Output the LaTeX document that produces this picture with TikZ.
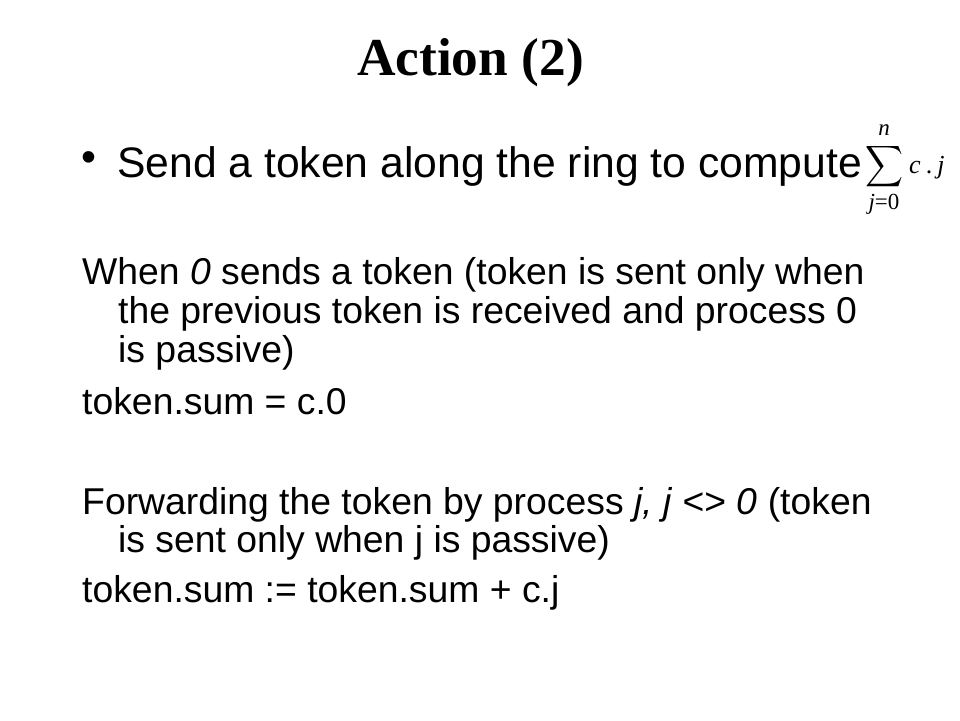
\documentclass[tikz,border=0pt]{standalone}
\usepackage{fontspec}
\setmainfont{Liberation Sans}
\newfontfamily\titlefont{Liberation Serif}
\usepackage{graphicx}
\tikzset{
  body/.style={anchor=base west, inner sep=0pt, font=\fontsize{37.33}{44}\selectfont},
  ttl/.style={anchor=base, inner sep=0pt, font=\titlefont\bfseries\fontsize{53.33}{60}\selectfont},
  bul/.style={anchor=base west, inner sep=0pt, font=\fontsize{42.67}{50}\selectfont},
  bdot/.style={anchor=center, inner sep=0pt, font=\fontsize{42.67}{50}\selectfont},
  mth/.style={inner sep=0pt, font=\titlefont\fontsize{23}{28}\selectfont},
  mthbig/.style={inner sep=0pt, font=\titlefont\fontsize{26}{30}\selectfont}
}
\begin{document}
\begin{tikzpicture}[x=1pt,y=-1pt]
\useasboundingbox[fill=white] (0,0) rectangle (960,720);
\node[ttl] (title) at (470.5,75.5) {Action (2)};
\node[bdot] (dot) at (89,162) {\textbullet};
\node[bul] (send) at (117,177) {Send a token along the ring to compute};
\node[inner sep=0pt, anchor=north west] (sigma) at (865,143) {\resizebox*{38pt}{46pt}{$\displaystyle\sum$}};
\node[mth, anchor=base] (upper) at (884,135) {\itshape n};
\node[mth, anchor=base] (lower) at (884,209) {{\itshape j}=0};
\node[mthbig, anchor=base west] (term) at (909,173) {{\itshape c}\hspace{5pt}.\hspace{5pt}{\itshape j}};
\node[body] (l1) at (82,284) {When \textit{0} sends a token (token is sent only when};
\node[body] (l2) at (118,323) {the previous token is received and process 0};
\node[body] (l3) at (118,362) {is passive)};
\node[body] (l4) at (82,414) {token.sum = c.0};
\node[body] (l5) at (82,514) {Forwarding the token by process \textit{j, j} <> \textit{0} (token};
\node[body] (l6) at (118,552) {is sent only when j is passive)};
\node[body] (l7) at (82,602) {token.sum := token.sum + c.j};
\end{tikzpicture}
\end{document}
